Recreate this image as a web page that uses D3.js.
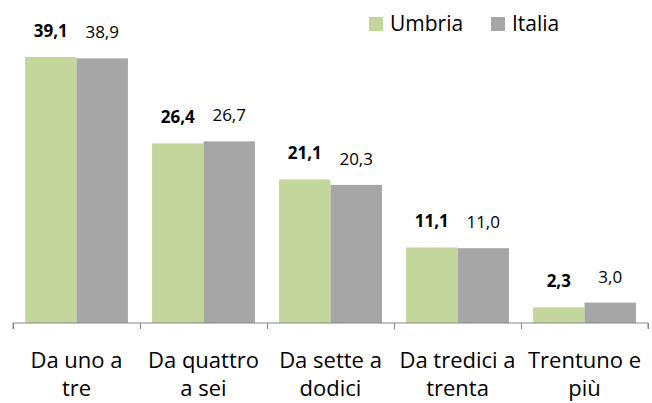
<!DOCTYPE html>
<html>
<head>
<meta charset="utf-8">
<script src="https://cdn.jsdelivr.net/npm/d3@7"></script>
<style>
  body { margin: 0; background: #fff; }
  text { font-family: "Open Sans", sans-serif; fill: #000; }
</style>
</head>
<body>
<script>
var categories = [['Da uno a', 'tre'], ['Da quattro', 'a sei'], ['Da sette a', 'dodici'], ['Da tredici a', 'trenta'], ['Trentuno e', 'più']];
var seriesNames = ['Umbria', 'Italia'];
var umbria = [39.1, 26.4, 21.1, 11.1, 2.3];
var italia = [38.9, 26.7, 20.3, 11.0, 3.0];
var colors = ['#c3d69b', '#a6a6a6'];

var width = 652, height = 403;
var svg = d3.select('body').append('svg')
  .attr('width', width)
  .attr('height', height);

var left = 13, right = 648, bottom = 323;

var x0 = d3.scaleBand().domain(d3.range(categories.length))
  .range([left, right]).paddingInner(0.19).paddingOuter(0.095);
var x1 = d3.scaleBand().domain(seriesNames).range([0, x0.bandwidth()]);
var y = d3.scaleLinear().domain([0, 39.1]).range([bottom, 57]);

var rows = categories.map(function(c, i) {
  return [{ s: 'Umbria', v: umbria[i] }, { s: 'Italia', v: italia[i] }];
});

var groups = svg.selectAll('.grp').data(rows).enter().append('g')
  .attr('class', 'grp')
  .attr('transform', function(d, i) { return 'translate(' + x0(i) + ',0)'; });

groups.selectAll('rect').data(function(d) { return d; }).enter().append('rect')
  .attr('x', function(d) { return x1(d.s); })
  .attr('y', function(d) { return y(d.v); })
  .attr('width', x1.bandwidth())
  .attr('height', function(d) { return bottom - y(d.v); })
  .attr('fill', function(d, i) { return colors[i]; });

groups.selectAll('.lbl').data(function(d) { return d; }).enter().append('text')
  .attr('class', 'lbl')
  .attr('x', function(d) { return x1(d.s) + x1.bandwidth() / 2; })
  .attr('y', function(d) { return y(d.v) - 20; })
  .attr('text-anchor', 'middle')
  .style('font-size', '17px')
  .style('font-weight', function(d, i) { return i === 0 ? 'bold' : 'normal'; })
  .text(function(d) { return d.v.toFixed(1).replace('.', ','); });

// x axis with tick marks between categories
var xEdge = d3.scaleLinear().domain([0, categories.length]).range([left, right]);
var axis = svg.append('g').attr('transform', 'translate(0,' + bottom + ')')
  .call(d3.axisBottom(xEdge).ticks(categories.length).tickSize(6).tickFormat(''));
axis.select('.domain').attr('stroke', '#868686').attr('d', 'M' + left + ',6V0H' + right + 'V6');
axis.selectAll('.tick line').attr('stroke', '#868686');

var catLbl = svg.selectAll('.cat').data(categories).enter().append('text')
  .attr('class', 'cat')
  .attr('text-anchor', 'middle')
  .style('font-size', '22px')
  .attr('transform', function(d, i) { return 'translate(' + (x0(i) + x0.bandwidth() / 2) + ',0)'; });
catLbl.selectAll('tspan').data(function(d) { return d; }).enter().append('tspan')
  .attr('x', 0)
  .attr('y', function(d, i) { return 368 + i * 28; })
  .text(function(d) { return d; });

// legend
var legX = [369, 491];
var leg = svg.selectAll('.leg').data(seriesNames).enter().append('g')
  .attr('class', 'leg')
  .attr('transform', function(d, i) { return 'translate(' + legX[i] + ',17)'; });
leg.append('rect').attr('width', 14).attr('height', 14)
  .attr('fill', function(d, i) { return colors[i]; });
leg.append('text').attr('x', 21).attr('y', 14)
  .style('font-size', '21px')
  .text(function(d) { return d; });
</script>
</body>
</html>
